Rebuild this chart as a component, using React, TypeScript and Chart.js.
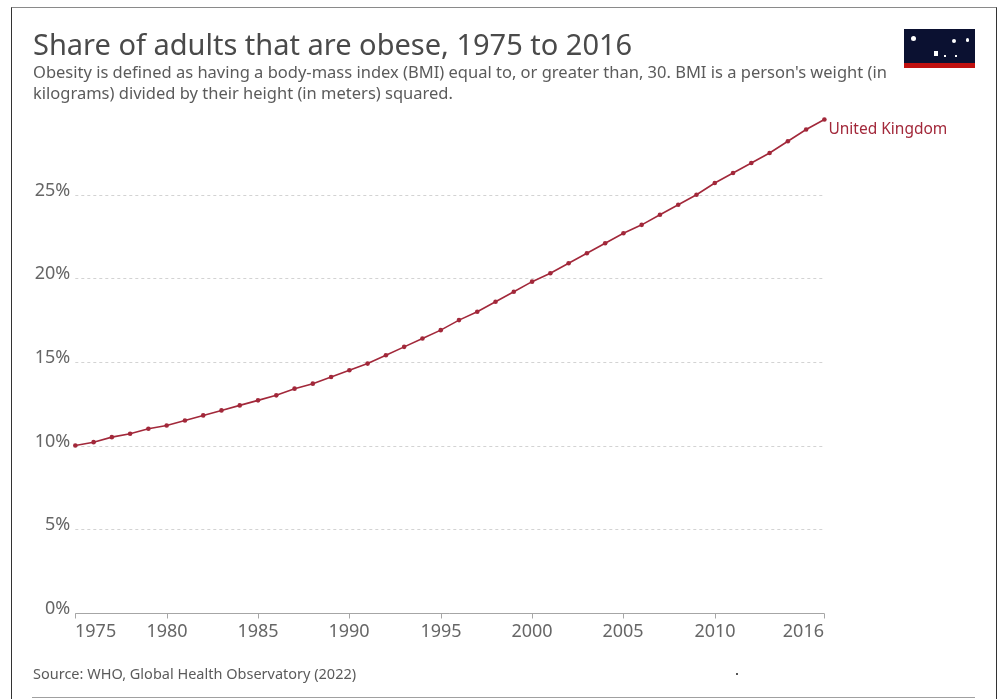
import React, { useEffect, useRef } from "react";
import { Chart, registerables } from "chart.js";

Chart.register(...registerables);

const years: number[] = [
  1975, 1976, 1977, 1978, 1979, 1980, 1981, 1982, 1983, 1984,
  1985, 1986, 1987, 1988, 1989, 1990, 1991, 1992, 1993, 1994,
  1995, 1996, 1997, 1998, 1999, 2000, 2001, 2002, 2003, 2004,
  2005, 2006, 2007, 2008, 2009, 2010, 2011, 2012, 2013, 2014,
  2015, 2016,
];
const ukObesity: number[] = [
  10.0, 10.2, 10.5, 10.7, 11.0, 11.2, 11.5, 11.8, 12.1, 12.4,
  12.7, 13.0, 13.4, 13.7, 14.1, 14.5, 14.9, 15.4, 15.9, 16.4,
  16.9, 17.5, 18.0, 18.6, 19.2, 19.8, 20.3, 20.9, 21.5, 22.1,
  22.7, 23.2, 23.8, 24.4, 25.0, 25.7, 26.3, 26.9, 27.5, 28.2,
  28.9, 29.5,
];
const seriesName = "United Kingdom";
const xTickYears: number[] = [1975, 1980, 1985, 1990, 1995, 2000, 2005, 2010, 2016];
const yTickValues: number[] = [0, 5, 10, 15, 20, 25];

const LINE_COLOR = "#a2283a";
const FONT = "'Noto Sans', 'Open Sans', sans-serif";

const axesPlugin = {
  id: "owidAxes",
  beforeDatasetsDraw(chart: any) {
    const { ctx, chartArea } = chart;
    const xs = chart.scales.x;
    const ys = chart.scales.y;
    ctx.save();
    // gridlines
    yTickValues.forEach((v) => {
      const y = Math.round(ys.getPixelForValue(v)) + 0.5;
      if (v !== 0) {
        ctx.strokeStyle = "#d3d3d3";
        ctx.lineWidth = 1;
        ctx.setLineDash([3, 3]);
        ctx.beginPath();
        ctx.moveTo(chartArea.left, y);
        ctx.lineTo(chartArea.right, y);
        ctx.stroke();
      }
    });
    ctx.setLineDash([]);
    // x axis line
    const y0 = Math.round(ys.getPixelForValue(0)) + 0.5;
    ctx.strokeStyle = "#a6a6a6";
    ctx.lineWidth = 1;
    ctx.beginPath();
    ctx.moveTo(chartArea.left, y0);
    ctx.lineTo(chartArea.right, y0);
    ctx.stroke();
    // tick marks + labels
    ctx.font = `18px ${FONT}`;
    ctx.fillStyle = "#666666";
    ctx.textBaseline = "alphabetic";
    xTickYears.forEach((yr, i) => {
      const x = Math.round(xs.getPixelForValue(yr)) + 0.5;
      ctx.beginPath();
      ctx.moveTo(x, y0);
      ctx.lineTo(x, y0 + 5);
      ctx.stroke();
      ctx.textAlign = i === 0 ? "left" : i === xTickYears.length - 1 ? "right" : "center";
      ctx.fillText(String(yr), x - 0.5, y0 + 23.5);
    });
    // y labels
    ctx.textAlign = "right";
    yTickValues.forEach((v) => {
      const y = ys.getPixelForValue(v);
      ctx.fillText(`${v}%`, chartArea.left - 5, y + 1);
    });
    ctx.restore();
  },
  afterDatasetsDraw(chart: any) {
    const { ctx } = chart;
    const xs = chart.scales.x;
    const ys = chart.scales.y;
    const last = ukObesity.length - 1;
    const x = xs.getPixelForValue(years[last]);
    const y = ys.getPixelForValue(ukObesity[last]);
    ctx.save();
    ctx.font = `15.5px ${FONT}`;
    ctx.fillStyle = LINE_COLOR;
    ctx.textAlign = "left";
    ctx.textBaseline = "middle";
    ctx.fillText(seriesName, x + 4, y + 10);
    ctx.restore();
  },
};

export default function App() {
  const canvasRef = useRef<HTMLCanvasElement | null>(null);

  useEffect(() => {
    const canvas = canvasRef.current;
    if (!canvas) return;
    const chart = new Chart(canvas, {
      type: "line",
      data: {
        datasets: [
          {
            label: seriesName,
            data: years.map((yr, i) => ({ x: yr, y: ukObesity[i] })),
            borderColor: LINE_COLOR,
            backgroundColor: LINE_COLOR,
            borderWidth: 1.6,
            pointRadius: 2.3,
            pointBorderWidth: 0,
            pointBackgroundColor: LINE_COLOR,
            tension: 0,
            clip: false as any,
          },
        ],
      },
      options: {
        animation: false,
        responsive: false,
        maintainAspectRatio: false,
        events: [],
        layout: {
          autoPadding: false,
          padding: { left: 75.3, right: 177.6, top: 119.5, bottom: 86.3 },
        },
        plugins: {
          legend: { display: false },
          tooltip: { enabled: false },
          title: { display: false },
        },
        scales: {
          x: {
            type: "linear",
            min: years[0],
            max: years[years.length - 1],
            display: false,
          },
          y: {
            type: "linear",
            min: 0,
            max: Math.max(...ukObesity),
            display: false,
          },
        },
      },
      plugins: [axesPlugin],
    });
    return () => chart.destroy();
  }, []);

  const textBase: React.CSSProperties = {
    position: "absolute",
    fontFamily: FONT,
    whiteSpace: "nowrap",
    margin: 0,
  };

  return (
    <div style={{ position: "relative", width: 1002, height: 699, overflow: "hidden", background: "#fff" }}>
      <style>{`body{margin:0;}`}</style>
      <div
        style={{
          position: "absolute",
          left: 11,
          top: 7,
          width: 986,
          height: 800,
          boxSizing: "border-box",
          borderTop: "1px solid #8a8a8a",
          borderLeft: "1px solid #333",
          borderRight: "1px solid #333",
        }}
      />
      <canvas
        ref={canvasRef}
        width={1002}
        height={699}
        style={{ position: "absolute", left: 0, top: 0, width: 1002, height: 699 }}
      />
      <div style={{ ...textBase, left: 33, top: 29.3, fontSize: 29, lineHeight: "29px", color: "#4a4a4a" }}>
        Share of adults that are obese, 1975 to 2016
      </div>
      <div style={{ ...textBase, left: 33, top: 61, fontSize: 16.5, lineHeight: "21px", color: "#5b5b5b" }}>
        Obesity is defined as having a body-mass index (BMI) equal to, or greater than, 30. BMI is a person's weight (in
        <br />
        kilograms) divided by their height (in meters) squared.
      </div>
      <div style={{ ...textBase, left: 33, top: 665.6, fontSize: 14.5, lineHeight: "14.5px", color: "#5b5b5b" }}>
        Source: WHO, Global Health Observatory (2022)
      </div>
      <div style={{ position: "absolute", left: 736, top: 673, width: 2, height: 2, background: "#555" }} />
      <div style={{ position: "absolute", left: 32, top: 697, width: 943, height: 1, background: "#a0a0a0" }} />
      <div style={{ position: "absolute", left: 904, top: 29, width: 71, height: 39, background: "#0b1131" }}>
        <div style={{ position: "absolute", left: 0, bottom: 0, width: 71, height: 5, background: "#c0100f" }} />
        <div style={{ position: "absolute", left: 7, top: 7, width: 5, height: 5, borderRadius: 3, background: "#fff" }} />
        <div style={{ position: "absolute", left: 48, top: 10, width: 4, height: 4, borderRadius: 2, background: "#fff" }} />
        <div style={{ position: "absolute", left: 62, top: 9, width: 3, height: 4, borderRadius: 2, background: "#fff" }} />
        <div style={{ position: "absolute", left: 30, top: 22, width: 4, height: 5, background: "#fff" }} />
        <div style={{ position: "absolute", left: 40, top: 26, width: 2, height: 2, background: "#fff" }} />
        <div style={{ position: "absolute", left: 51, top: 26, width: 2, height: 2, background: "#fff" }} />
      </div>
    </div>
  );
}
